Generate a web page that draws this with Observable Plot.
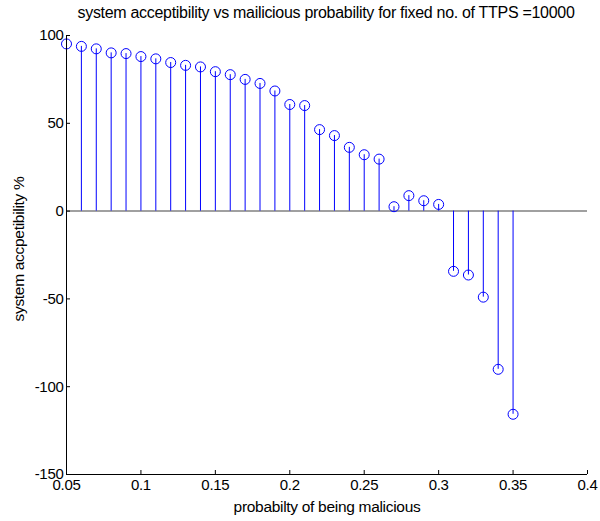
<!DOCTYPE html>
<html>
<head>
<meta charset="utf-8">
<script src="https://cdn.jsdelivr.net/npm/d3@7"></script>
<script src="https://cdn.jsdelivr.net/npm/@observablehq/plot@0.6"></script>
<style>
  html, body { margin: 0; padding: 0; background: #fff; }
  body { width: 600px; height: 521px; overflow: hidden; font-family: "Liberation Sans", Arial, sans-serif; }
  #title { position: relative; height: 26px; width: 600px; }
  #title span { position: absolute; left: 326px; top: 4px; transform: translateX(-50%); white-space: nowrap; font-size: 16px; letter-spacing: -0.3px; color: #000; }
  svg { display: block; }
</style>
</head>
<body>
<div id="title"><span>system acceptibility vs mailicious probability for fixed no. of TTPS =10000</span></div>
<div id="chart"></div>
<script>
const probability = [0.05,0.06,0.07,0.08,0.09,0.10,0.11,0.12,0.13,0.14,0.15,0.16,0.17,0.18,0.19,0.20,0.21,0.22,0.23,0.24,0.25,0.26,0.27,0.28,0.29,0.30,0.31,0.32,0.33,0.34,0.35];
const acceptability = [95.2,93.8,92.4,90.1,89.7,88.0,86.7,84.6,83.0,82.1,79.4,77.7,75.0,72.7,68.4,60.7,60.1,46.4,43.0,36.3,32.1,29.6,2.5,8.8,5.9,3.8,-34.3,-36.4,-49.0,-90.1,-115.7];
const xTicks = [0.05,0.1,0.15,0.2,0.25,0.3,0.35,0.4];
const xTickLabels = ["0.05","0.1","0.15","0.2","0.25","0.3","0.35","0.4"];
const yTicks = [-150,-100,-50,0,50,100];
const yTickLabels = ["-150","-100","-50","0","50","100"];
const xLabel = "probabilty of being malicious";
const yLabel = "system accpetibility %";

const data = probability.map((p, i) => ({p, v: acceptability[i]}));

const chart = Plot.plot({
  width: 600,
  height: 495,
  marginLeft: 66,
  marginRight: 13,
  marginTop: 9,
  marginBottom: 47,
  style: {fontFamily: "'Liberation Sans', Arial, sans-serif", fontSize: "15px", color: "#000", background: "#fff", letterSpacing: "-0.3px"},
  x: {domain: [0.05, 0.4]},
  y: {domain: [-150, 100]},
  marks: [
    Plot.ruleY([0], {stroke: "#808080", strokeWidth: 1.5}),
    Plot.ruleX(data, {x: "p", y1: 0, y2: "v", stroke: "#0000ff", strokeWidth: 1}),
    Plot.dot(data, {x: "p", y: "v", r: 5, stroke: "#0000ff", strokeWidth: 1, fill: "none"}),
    Plot.ruleX([0.05], {stroke: "#000", strokeWidth: 1}),
    Plot.ruleY([-150], {stroke: "#000", strokeWidth: 1}),
    Plot.axisX(xTicks, {tickSize: -4, tickPadding: 9, tickFormat: (d, i) => xTickLabels[i], label: null, fontSize: 15, stroke: "#000"}),
    Plot.axisY(yTicks, {tickSize: -4, tickPadding: 7, tickFormat: (d, i) => yTickLabels[i], label: null, fontSize: 15, stroke: "#000"}),
    Plot.text([xLabel], {frameAnchor: "bottom", dy: 37, text: d => d, fontSize: 15.5}),
    Plot.text([yLabel], {frameAnchor: "left", textAnchor: "middle", dx: -47, dy: -6, rotate: -90, text: d => d, fontSize: 15.5})
  ]
});
document.getElementById("chart").appendChild(chart);
</script>
</body>
</html>
